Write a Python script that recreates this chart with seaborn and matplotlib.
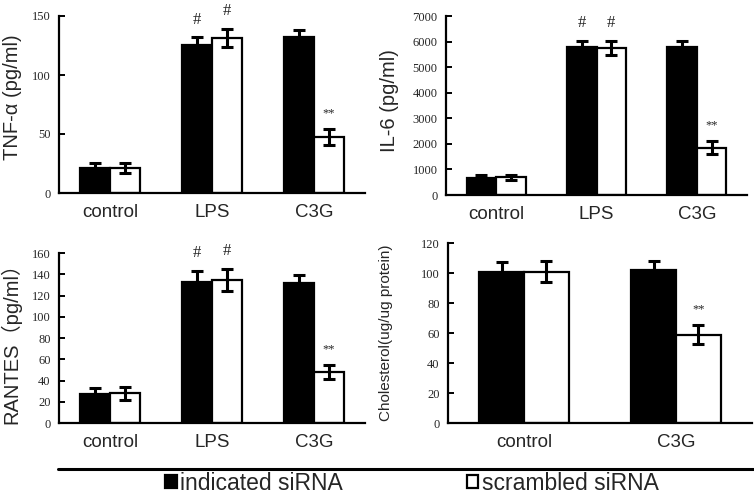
import pandas as pd
import matplotlib.pyplot as plt
from matplotlib.lines import Line2D
from matplotlib.ticker import FixedLocator
from matplotlib.container import BarContainer
import seaborn as sns

# Data
groups3 = ["control", "LPS", "C3G"]
groups2 = ["control", "C3G"]
series = ["indicated siRNA", "scrambled siRNA"]

tnf_ind = [21, 125, 132]
tnf_ind_err = [4, 7, 6.5]
tnf_scr = [21, 131.5, 47.5]
tnf_scr_err = [4, 7.5, 6.7]

il6_ind = [680, 5790, 5800]
il6_ind_err = [105, 235, 235]
il6_scr = [690, 5760, 1850]
il6_scr_err = [100, 270, 250]

rantes_ind = [27, 133, 132]
rantes_ind_err = [6, 10, 7]
rantes_scr = [28, 135, 48]
rantes_scr_err = [6.3, 10.3, 6.6]

chol_ind = [100.5, 102]
chol_ind_err = [6.7, 6.2]
chol_scr = [101, 59]
chol_scr_err = [7.3, 6.3]

sns.set_style("white")
SANS = ["Liberation Sans", "Noto Sans CJK SC", "DejaVu Sans"]
SERIF = "Liberation Serif"


def draw_panel(ax, groups, ind, ind_err, scr, scr_err, ymax, ystep,
               ylabel, label_pos, label_size, marks, legend=False):
    df = pd.DataFrame({
        "group": groups * 2,
        "siRNA": [series[0]] * len(groups) + [series[1]] * len(groups),
        "value": ind + scr,
    })
    errs = [ind_err, scr_err]
    sns.barplot(data=df, x="group", y="value", hue="siRNA", order=groups,
                hue_order=series, palette=["black", "white"], width=0.59,
                edgecolor="black", linewidth=1.6, errorbar=None,
                legend=legend, ax=ax)
    bars = [c for c in ax.containers if isinstance(c, BarContainer)]
    # error bars and significance marks on the bar centers
    for k, cont in enumerate(bars):
        for i, bar in enumerate(cont.patches):
            xc = bar.get_x() + bar.get_width() / 2
            h = bar.get_height()
            ax.errorbar(xc, h, yerr=errs[k][i], fmt="none", ecolor="black",
                        elinewidth=2.2, capsize=4.5, capthick=2.2, zorder=5)
            m = marks.get((groups[i], k))
            if m:
                ax.annotate(m, (xc, h + errs[k][i]), xytext=(0, 7),
                            textcoords="offset points", ha="center",
                            va="bottom", family=SERIF,
                            fontsize=12 if m == "#" else 9,
                            annotation_clip=False)
    n = len(groups)
    ax.set_xlim(-0.5, n - 0.5)
    ax.set_ylim(0, ymax)
    ax.set_yticks(range(0, ymax + 1, ystep))
    ax.xaxis.set_minor_locator(FixedLocator([i + 0.5 for i in range(n)]))
    ax.tick_params(axis="x", which="major", length=0, pad=8, labelsize=13.5)
    ax.tick_params(axis="x", which="minor", direction="in", length=5,
                   width=1.6, color="black")
    ax.tick_params(axis="y", direction="in", length=4, width=1.4,
                   color="black", labelsize=9, pad=6, left=True)
    for t in ax.get_xticklabels():
        t.set_family(SANS)
    for t in ax.get_yticklabels():
        t.set_family(SERIF)
    ax.set_xlabel("")
    ax.set_ylabel(ylabel, family=SANS, fontsize=label_size)
    ax.yaxis.set_label_coords(*label_pos)
    sns.despine(ax=ax)
    for s in ("left", "bottom"):
        ax.spines[s].set_linewidth(1.6)
        ax.spines[s].set_color("black")


fig = plt.figure(figsize=(7.54, 4.94), dpi=100)
ax1 = fig.add_axes([59 / 754, 1 - 193 / 494, 306 / 754, 177 / 494])
ax2 = fig.add_axes([446 / 754, 1 - 195 / 494, 301 / 754, 179 / 494])
ax3 = fig.add_axes([59 / 754, 1 - 423 / 494, 306 / 754, 170 / 494])
ax4 = fig.add_axes([448 / 754, 1 - 423 / 494, 304 / 754, 180 / 494])

lps_marks = {("LPS", 0): "#", ("LPS", 1): "#", ("C3G", 1): "**"}

draw_panel(ax1, groups3, tnf_ind, tnf_ind_err, tnf_scr, tnf_scr_err,
           150, 50, "TNF-α (pg/ml)", (-0.122, 0.54), 14.5, lps_marks,
           legend=True)
draw_panel(ax2, groups3, il6_ind, il6_ind_err, il6_scr, il6_scr_err,
           7000, 1000, "IL-6 (pg/ml)", (-0.155, 0.53), 14.5, lps_marks)
draw_panel(ax3, groups3, rantes_ind, rantes_ind_err, rantes_scr,
           rantes_scr_err, 160, 20, "RANTES（pg/ml）", (-0.122, 0.5), 14.5,
           lps_marks)
draw_panel(ax4, groups2, chol_ind, chol_ind_err, chol_scr, chol_scr_err,
           120, 20, "Cholesterol(ug/ug protein)", (-0.18, 0.5), 11,
           {("C3G", 1): "**"})

# shared legend under a rule
handles, labels = ax1.get_legend_handles_labels()
ax1.get_legend().remove()
fig.add_artist(Line2D([58 / 754, 1.0], [1 - 469 / 494] * 2,
                      transform=fig.transFigure, color="black", lw=2.2))
fig.legend(handles, labels, loc="center", ncol=2,
           bbox_to_anchor=(412 / 754, 1 - 483 / 494), frameon=False,
           prop={"family": SANS, "size": 16.5}, handlelength=0.5,
           handleheight=0.5, handletextpad=0.15, columnspacing=5.4,
           borderaxespad=0, borderpad=0)

fig.savefig("out.png", dpi=100, facecolor="white")
